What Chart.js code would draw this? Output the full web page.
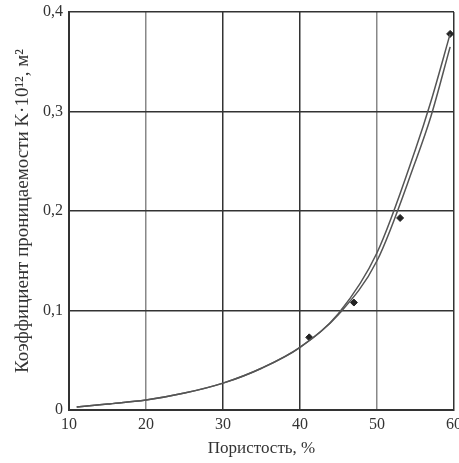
<!DOCTYPE html>
<html>
<head>
<meta charset="utf-8">
<script src="https://cdn.jsdelivr.net/npm/chart.js@4"></script>
<style>
  html, body { margin: 0; padding: 0; background: #fff; }
  #wrap { width: 459px; height: 463px; }
</style>
</head>
<body>
<div id="wrap"><canvas id="chart" width="459" height="463"></canvas></div>
<script>
// Пористость, % -- точки кривых
const curveX = [11, 15, 20, 25, 30, 35, 40, 45, 50, 55, 57, 59.5];
// кривая 1 (через точки эксперимента)
const curveA = [0.003, 0.006, 0.010, 0.017, 0.027, 0.042, 0.063, 0.097, 0.158, 0.262, 0.31, 0.378];
// кривая 2
const curveB = [0.003, 0.006, 0.010, 0.017, 0.027, 0.042, 0.063, 0.096, 0.150, 0.250, 0.295, 0.365];

// экспериментальные точки
const pointX = [41.2, 47, 53, 59.5];
const pointY = [0.073, 0.108, 0.193, 0.378];

const xTicks = [10, 20, 30, 40, 50, 60];
const yTicks = [0, 0.1, 0.2, 0.3, 0.4];

const toXY = (xs, ys) => xs.map((x, i) => ({ x: x, y: ys[i] }));

const family = "'Liberation Serif', 'DejaVu Serif', serif";
const tickFont = { family: family, size: 16 };
const titleFont = { family: family, size: 17 };

const ctx = document.getElementById('chart').getContext('2d');
new Chart(ctx, {
  type: 'line',
  data: {
    datasets: [
      {
        data: toXY(curveX, curveA),
        borderColor: '#555',
        borderWidth: 1.5,
        pointRadius: 0,
        cubicInterpolationMode: 'monotone',
      },
      {
        data: toXY(curveX, curveB),
        borderColor: '#555',
        borderWidth: 1.5,
        pointRadius: 0,
        cubicInterpolationMode: 'monotone',
      },
      {
        type: 'scatter',
        data: toXY(pointX, pointY),
        pointStyle: 'rectRot',
        pointRadius: 3.5,
        backgroundColor: '#222',
        borderColor: '#222',
        showLine: false,
      },
    ],
  },
  options: {
    responsive: false,
    animation: false,
    layout: { padding: { top: 12, right: 4, left: 0, bottom: 0 } },
    plugins: {
      legend: { display: false },
      tooltip: { enabled: false },
    },
    scales: {
      x: {
        type: 'linear',
        min: 10,
        max: 60,
        afterBuildTicks: (axis) => { axis.ticks = xTicks.map((v) => ({ value: v })); },
        afterFit: (axis) => {
          axis.height = 53;
          axis.paddingRight = 0;
          axis.paddingLeft = 0;
        },
        grid: {
          color: (c) => (c.tick.value === 20 || c.tick.value === 50 ? '#888' : '#333'),
          lineWidth: 1.5,
          drawTicks: false,
        },
        border: { color: '#333', width: 2 },
        ticks: { color: '#333', font: tickFont, padding: 5 },
        title: { display: true, text: 'Пористость, %', color: '#333', font: titleFont, padding: { top: 0 } },
      },
      y: {
        min: 0,
        max: 0.4,
        afterBuildTicks: (axis) => { axis.ticks = yTicks.map((v) => ({ value: v })); },
        afterFit: (axis) => {
          axis.width = 69;
          axis.paddingTop = 0;
          axis.paddingBottom = 0;
        },
        grid: { color: '#333', lineWidth: 1.5, drawTicks: false },
        border: { color: '#333', width: 2 },
        ticks: {
          color: '#333',
          font: tickFont,
          padding: 6,
          callback: (v) => String(v).replace('.', ','),
        },
        title: {
          display: true,
          text: 'Коэффициент проницаемости K·10¹², м²',
          color: '#333',
          font: { family: family, size: 19 },
          padding: { top: 12, bottom: 0 },
        },
      },
    },
  },
});
</script>
</body>
</html>
